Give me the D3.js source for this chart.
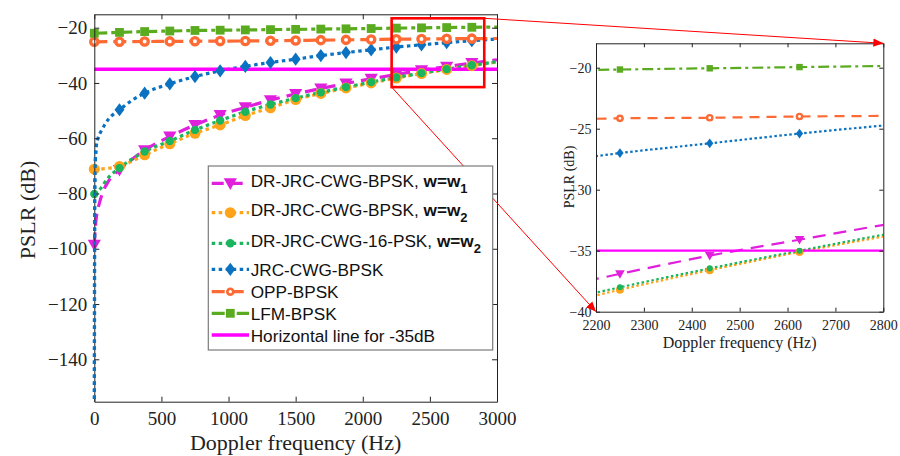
<!DOCTYPE html>
<html><head><meta charset="utf-8">
<script src="https://cdn.jsdelivr.net/npm/d3@7"></script>
<style>body{margin:0;background:#fff}svg{display:block}</style>
</head><body>
<svg id="c" width="900" height="456"></svg>
<script>
// ---------------- data ----------------
const markerFreqs = [0,187.5,375,562.5,750,937.5,1125,1312.5,1500,1687.5,1875,2062.5,2250,2437.5,2625,2812.5,3000];

const drW1Freq = [0,8,20,35,60,100,140,187.5,375,562.5,750,937.5,1125,1312.5,1500,1687.5,1875,2062.5,2250,2437.5,2625,2812.5,3000];
const drW1Val  = [-98.5,-92,-87,-84,-80,-76,-73.5,-71.5,-64.3,-59.4,-55.2,-51.6,-48.8,-46.2,-44.0,-42.0,-40.2,-38.5,-36.9,-35.4,-34.1,-32.8,-31.6];

const drW2Freq = [0,100,187.5,375,562.5,750,937.5,1125,1312.5,1500,1687.5,1875,2062.5,2250,2437.5,2625,2812.5,3000];
const drW2Val  = [-71.2,-70.9,-70.2,-66.0,-62.0,-58.2,-55.2,-51.8,-49.0,-46.0,-43.8,-41.8,-40.0,-38.2,-36.6,-35.1,-33.75,-32.4];

const psk16Freq = [0,50,100,187.5,375,562.5,750,937.5,1125,1312.5,1500,1687.5,1875,2062.5,2250,2437.5,2625,2812.5,3000];
const psk16Val  = [-80.2,-78,-74.5,-70.8,-64.8,-61.0,-57.0,-53.6,-50.4,-47.8,-45.5,-43.4,-41.5,-39.7,-38.0,-36.45,-35.0,-33.6,-32.3];

const jrcFreq = [0,3,8,15,25,50,75,110,150,187.5,280,375,562.5,750,937.5,1125,1312.5,1500,1687.5,1875,2062.5,2250,2437.5,2625,2812.5,3000];
const jrcVal  = [-200,-80,-68,-63,-60.5,-57.5,-55.3,-52.8,-51.0,-49.7,-46.3,-43.7,-40.3,-37.7,-35.6,-34.0,-32.6,-31.4,-30.1,-29.0,-28.0,-27.0,-26.2,-25.4,-24.7,-24.1];

const oppFreq = markerFreqs;
const oppVal  = [-25.1,-25.05,-25.0,-24.95,-24.9,-24.85,-24.8,-24.7,-24.6,-24.5,-24.4,-24.3,-24.15,-24.1,-24.0,-23.95,-23.9];

const lfmFreq = markerFreqs;
const lfmVal  = [-22.0,-21.7,-21.4,-21.2,-21.0,-20.9,-20.8,-20.7,-20.6,-20.5,-20.4,-20.3,-20.15,-20.05,-19.95,-19.85,-19.75];

const thresholdDb = -35;

const mainXTicks = [0,500,1000,1500,2000,2500,3000];
const mainYTicks = [-140,-120,-100,-80,-60,-40,-20];
const insetXTicks = [2200,2300,2400,2500,2600,2700,2800];
const insetYTicks = [-40,-35,-30,-25,-20];

const zoomBoxX = [2215,2905];
const zoomBoxY = [-41.5,-16.6];

const legendLabels = ["DR-JRC-CWG-BPSK, ","DR-JRC-CWG-BPSK, ","DR-JRC-CWG-16-PSK, ","JRC-CWG-BPSK","OPP-BPSK","LFM-BPSK","Horizontal line for -35dB"];
const legendBold = ["w=w","w=w","w=w","","","",""];
const legendSub = ["1","2","2","","","",""];

// ---------------- styles ----------------
const S = [
 {f:drW1Freq, v:drW1Val, color:"#e020dc", dash:"12,7", idash:"13,8", marker:"tri"},
 {f:drW2Freq, v:drW2Val, color:"#ffa31a", dash:"3.5,3.5", idash:"2.5,2.5", marker:"circ"},
 {f:psk16Freq, v:psk16Val, color:"#1ab55c", dash:"3.5,3.5", idash:"2.5,2.5", marker:"dot"},
 {f:jrcFreq, v:jrcVal, color:"#0a72c0", dash:"3.5,3.5", idash:"2.5,2.5", marker:"dia"},
 {f:oppFreq, v:oppVal, color:"#fd6a33", dash:"13,6", idash:"10,7", marker:"ring"},
 {f:lfmFreq, v:lfmVal, color:"#5aab1f", dash:"13,4,4,4", idash:"11,4,3,4", marker:"sq"}
];
const threshColor = "#ff00ff";

const svg = d3.select("#c");
svg.append("rect").attr("width",900).attr("height",456).attr("fill","#fff");
const defs = svg.append("defs");
defs.append("clipPath").attr("id","cm").append("rect").attr("x",92).attr("y",14.3).attr("width",497-92).attr("height",401.7-14.3);
defs.append("clipPath").attr("id","ci").append("rect").attr("x",596).attr("y",43.3).attr("width",883.3-596).attr("height",311.7-43.3);
defs.append("marker").attr("id","arr").attr("viewBox","0 0 10 10").attr("refX",10).attr("refY",5)
  .attr("markerWidth",10).attr("markerHeight",10).attr("markerUnits","userSpaceOnUse").attr("orient","auto")
  .append("path").attr("d","M0,0.8 L10,5 L0,9.2 Z").attr("fill","#ff0000");

function drawMarker(g, type, cx, cy, s, color){
  if(type==="tri"){
    g.append("path").attr("d",`M${cx-s*0.6},${cy-s*0.45} L${cx+s*0.6},${cy-s*0.45} L${cx},${cy+s*0.6} Z`).attr("fill",color);
  } else if(type==="circ"){
    g.append("circle").attr("cx",cx).attr("cy",cy).attr("r",s*0.5).attr("fill",color);
  } else if(type==="dot"){
    g.append("circle").attr("cx",cx).attr("cy",cy).attr("r",s*0.38).attr("fill",color);
  } else if(type==="dia"){
    g.append("path").attr("d",`M${cx},${cy-s*0.6} L${cx+s*0.45},${cy} L${cx},${cy+s*0.6} L${cx-s*0.45},${cy} Z`).attr("fill",color);
  } else if(type==="ring"){
    g.append("circle").attr("cx",cx).attr("cy",cy).attr("r",s*0.33).attr("fill","#fff").attr("stroke",color).attr("stroke-width",s*0.3);
  } else if(type==="sq"){
    g.append("rect").attr("x",cx-s*0.4).attr("y",cy-s*0.4).attr("width",s*0.8).attr("height",s*0.8).attr("fill",color);
  }
}

function drawAxes(g, x, y, xt, yt, tl, fs, padX, padY){
  const style = sel => {
    sel.attr("font-family","'Liberation Serif',serif").attr("font-size",fs);
    sel.select(".domain").attr("stroke","#222").attr("stroke-width",1);
    sel.selectAll(".tick line").attr("stroke","#222");
    sel.selectAll("text").attr("fill","#222");
  };
  const fmt = d3.format("d");
  g.append("g").attr("transform",`translate(0,${y.range()[0]})`)
    .call(d3.axisBottom(x).tickValues(xt).tickSizeInner(-tl).tickSizeOuter(0).tickPadding(padX).tickFormat(fmt)).call(style);
  g.append("g").attr("transform",`translate(0,${y.range()[1]})`)
    .call(d3.axisTop(x).tickValues(xt).tickSizeInner(-tl).tickSizeOuter(0).tickFormat(()=>"")).call(style);
  g.append("g").attr("transform",`translate(${x.range()[0]},0)`)
    .call(d3.axisLeft(y).tickValues(yt).tickSizeInner(-tl).tickSizeOuter(0).tickPadding(padY).tickFormat(fmt)).call(style);
  g.append("g").attr("transform",`translate(${x.range()[1]},0)`)
    .call(d3.axisRight(y).tickValues(yt).tickSizeInner(-tl).tickSizeOuter(0).tickFormat(()=>"")).call(style);
}

function drawPlot(x, y, clipId, lw, ms, isInset){
  const g = svg.append("g").attr("clip-path",`url(#${clipId})`);
  const gm = svg.append("g");
  const [x0,x1] = x.domain(), [y0,y1] = y.domain();
  S.forEach(s => {
    const pts = s.f.map((f,i)=>[f,s.v[i]]);
    const line = d3.line().x(d=>x(d[0])).y(d=>y(d[1])).curve(d3.curveMonotoneX);
    g.append("path").attr("d",line(pts)).attr("fill","none").attr("stroke",s.color)
      .attr("stroke-width",lw).attr("stroke-dasharray",isInset?s.idash:s.dash);
    pts.filter(p=>markerFreqs.includes(p[0]) && p[0]>=x0 && p[0]<x1 && p[1]>=y0 && p[1]<=y1).forEach(p=>{
      drawMarker(gm, s.marker, x(p[0]), y(p[1]), ms, s.color);
    });
  });
  g.append("line").attr("x1",x(x0)).attr("x2",x(x1))
    .attr("y1",y(thresholdDb)).attr("y2",y(thresholdDb))
    .attr("stroke",threshColor).attr("stroke-width",isInset?2.2:3.5);
}

// ---------------- main plot ----------------
const mx = d3.scaleLinear().domain([0,3000]).range([94.3,497]);
const my = d3.scaleLinear().domain([-155.35,-15.15]).range([401.7,14.3]);
drawPlot(mx, my, "cm", 3.2, 11, false);
drawAxes(svg.append("g"), mx, my, mainXTicks, mainYTicks, 5, 19, 10, 7);
// redraw vertical blue segment dots over the left axis (as in the reference)
svg.append("path").attr("clip-path","url(#cm)")
  .attr("d",d3.line().x(d=>mx(d[0])).y(d=>my(d[1])).curve(d3.curveMonotoneX)(jrcFreq.slice(0,4).map((f,i)=>[f,jrcVal[i]])))
  .attr("fill","none").attr("stroke",S[3].color).attr("stroke-width",3.2).attr("stroke-dasharray",S[3].dash);

svg.append("text").attr("x",(94.3+497)/2).attr("y",450).attr("text-anchor","middle")
  .attr("font-family","'Liberation Serif',serif").attr("font-size",22).attr("fill","#222").text("Doppler frequency (Hz)");
svg.append("text").attr("transform","translate(35,210) rotate(-90)").attr("text-anchor","middle")
  .attr("font-family","'Liberation Serif',serif").attr("font-size",22).attr("fill","#222").text("PSLR (dB)");

// ---------------- inset plot ----------------
const ix = d3.scaleLinear().domain([2200,2800]).range([596,883.3]);
const iy = d3.scaleLinear().domain([-40,-18]).range([311.7,43.3]);
drawPlot(ix, iy, "ci", 2.2, 8, true);
drawAxes(svg.append("g"), ix, iy, insetXTicks, insetYTicks, 4, 14, 8, 4.5);
svg.append("text").attr("x",(596+883.3)/2).attr("y",348).attr("text-anchor","middle")
  .attr("font-family","'Liberation Serif',serif").attr("font-size",16).attr("fill","#222").text("Doppler frequency (Hz)");
svg.append("text").attr("transform","translate(574,177) rotate(-90)").attr("text-anchor","middle")
  .attr("font-family","'Liberation Serif',serif").attr("font-size",14).attr("fill","#222").text("PSLR (dB)");

// ---------------- zoom box + arrows ----------------
svg.append("rect").attr("x",mx(zoomBoxX[0])).attr("y",my(zoomBoxY[1]))
  .attr("width",mx(zoomBoxX[1])-mx(zoomBoxX[0])).attr("height",my(zoomBoxY[0])-my(zoomBoxY[1]))
  .attr("fill","none").attr("stroke","#ff0000").attr("stroke-width",2.6);
svg.append("line").attr("x1",mx(zoomBoxX[1])).attr("y1",my(zoomBoxY[1]))
  .attr("x2",ix(2800)).attr("y2",iy(-18)).attr("stroke","#ff0000").attr("stroke-width",1).attr("marker-end","url(#arr)");
svg.append("line").attr("x1",mx(zoomBoxX[0])).attr("y1",my(zoomBoxY[0]))
  .attr("x2",ix(2200)).attr("y2",iy(-40)).attr("stroke","#ff0000").attr("stroke-width",1).attr("marker-end","url(#arr)");

// ---------------- legend ----------------
const lg = svg.append("g");
lg.append("rect").attr("x",208.3).attr("y",166).attr("width",492.7-208.3).attr("height",350-166)
  .attr("fill","#fff").attr("stroke","#7a7a7a").attr("stroke-width",1.2);
const rowY = [183.3,212.7,243.3,269.3,291.7,313.3,335];
const rowBase = [187,215.5,246.7,275.5,298,319.5,341.5];
const legItems = S.map(s=>({color:s.color,dash:s.dash,marker:s.marker,lw:3.2})).concat([{color:threshColor,dash:null,marker:null,lw:3.5}]);
legItems.forEach((it,i)=>{
  const ln = lg.append("line").attr("x1",211.7).attr("x2",249).attr("y1",rowY[i]).attr("y2",rowY[i])
    .attr("stroke",it.color).attr("stroke-width",it.lw);
  if(it.dash) ln.attr("stroke-dasharray",it.dash);
  if(it.marker) drawMarker(lg, it.marker, 230.3, rowY[i], it.marker==="ring"?9:11, it.color);
  const t = lg.append("text").attr("x",250.7).attr("y",rowBase[i]).attr("font-family","'Liberation Sans',Arial,sans-serif")
    .attr("font-size",17.2).attr("fill","#111");
  t.append("tspan").text(legendLabels[i]);
  if(legendBold[i]){
    t.append("tspan").attr("font-weight","bold").text(legendBold[i]);
    t.append("tspan").attr("font-weight","bold").attr("font-size",13).attr("dy",6).text(legendSub[i]);
  }
});
</script>
</body></html>
